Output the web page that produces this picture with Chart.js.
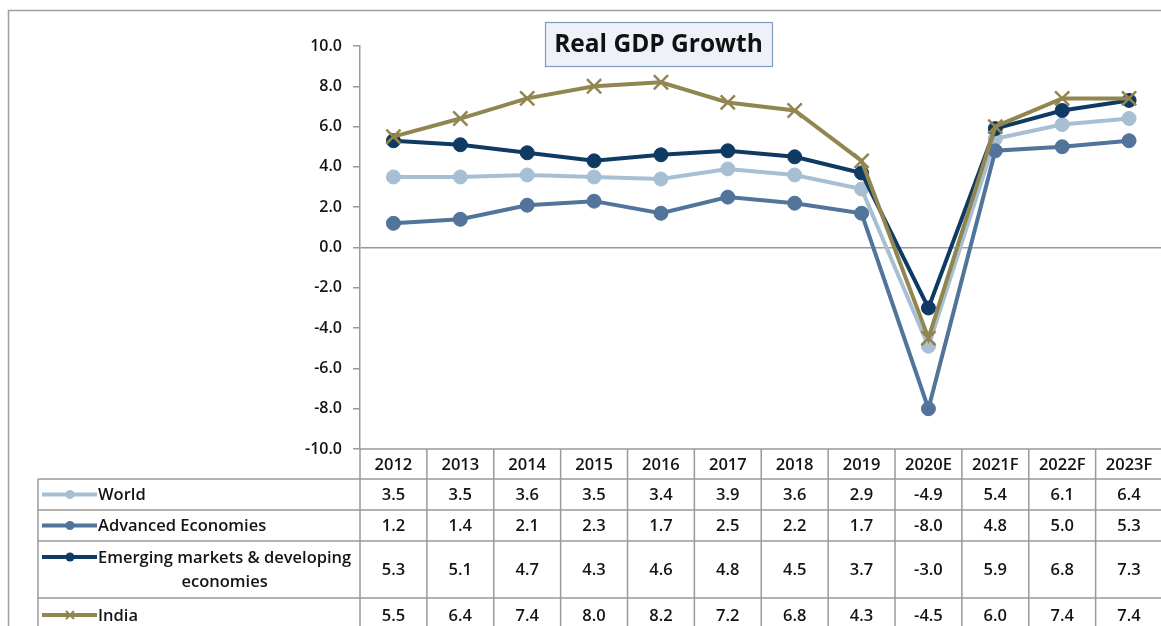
<!DOCTYPE html>
<html><head><meta charset="utf-8">
<script src="https://cdn.jsdelivr.net/npm/chart.js@4/dist/chart.umd.min.js"></script>
<style>
html,body{margin:0;padding:0;background:#fff;overflow:hidden;width:1161px;height:626px}
#wrap{position:absolute;left:0;top:0;width:1175px;height:626px}
</style></head>
<body><div id="wrap"><canvas id="c"></canvas></div>
<script>
const categories = ['2012','2013','2014','2015','2016','2017','2018','2019','2020E','2021F','2022F','2023F'];
const world    = [3.5, 3.5, 3.6, 3.5, 3.4, 3.9, 3.6, 2.9, -4.9, 5.4, 6.1, 6.4];
const advanced = [1.2, 1.4, 2.1, 2.3, 1.7, 2.5, 2.2, 1.7, -8.0, 4.8, 5.0, 5.3];
const emerging = [5.3, 5.1, 4.7, 4.3, 4.6, 4.8, 4.5, 3.7, -3.0, 5.9, 6.8, 7.3];
const india    = [5.5, 6.4, 7.4, 8.0, 8.2, 7.2, 6.8, 4.3, -4.5, 6.0, 7.4, 7.4];
const seriesLabels = [['World'], ['Advanced Economies'], ['Emerging markets & developing', 'economies'], ['India']];
const titleText = 'Real GDP Growth';

const FONT = '"Open Sans", Lato, sans-serif';
const COLORS = ['#a8bfd3', '#52739a', '#0f3a63', '#928650'];
const GRID = '#9a9a9a';
const TXT = '#141414';

const frameTitlePlugin = {
  id: 'frameTitle',
  beforeDraw(chart) {
    const ctx = chart.ctx;
    ctx.save();
    ctx.strokeStyle = '#a0a0a0'; ctx.lineWidth = 1.5;
    ctx.strokeRect(8.5, 10.5, 1300, 700);
    ctx.restore();
  },
  afterDraw(chart) {
    const ctx = chart.ctx;
    ctx.save();
    ctx.fillStyle = '#eef2f8';
    ctx.fillRect(545, 22, 227, 44);
    ctx.strokeStyle = '#7f9bbf'; ctx.lineWidth = 1.2;
    ctx.strokeRect(545.5, 22.5, 227, 44);
    ctx.fillStyle = '#111';
    ctx.font = 'bold 24.5px ' + FONT;
    ctx.textAlign = 'center'; ctx.textBaseline = 'middle';
    ctx.fillText(titleText, 658.5, 45);
    ctx.restore();
  }
};

const tablePlugin = {
  id: 'dataTable',
  afterDraw(chart) {
    const ctx = chart.ctx, xs = chart.scales.x, a = chart.chartArea;
    const data = chart.data.datasets.map(d => d.data);
    const n = categories.length;
    const colW = xs.getPixelForValue(1) - xs.getPixelForValue(0);
    const left = a.left, right = left + colW * n;
    const tableLeft = 38;
    const top = a.bottom;
    const rowH = [30, 31, 31, 57, 34];
    const ys = [top];
    rowH.forEach(h => ys.push(ys[ys.length - 1] + h));
    ctx.save();
    ctx.strokeStyle = GRID; ctx.lineWidth = 1.5;
    ctx.beginPath();
    ctx.moveTo(left, ys[0]); ctx.lineTo(right, ys[0]);
    for (let i = 1; i < ys.length; i++) { ctx.moveTo(tableLeft, ys[i]); ctx.lineTo(right, ys[i]); }
    for (let c = 0; c <= n; c++) { const x = left + c * colW; ctx.moveTo(x, ys[0]); ctx.lineTo(x, ys[ys.length - 1]); }
    ctx.moveTo(tableLeft, ys[1]); ctx.lineTo(tableLeft, ys[ys.length - 1]);
    ctx.stroke();

    ctx.fillStyle = TXT;
    ctx.font = '600 16.5px ' + FONT;
    ctx.textAlign = 'center'; ctx.textBaseline = 'middle';
    categories.forEach((c, i) => ctx.fillText(c, xs.getPixelForValue(i), (ys[0] + ys[1]) / 2 + 1));
    data.forEach((row, r) => {
      const cy = (ys[r + 1] + ys[r + 2]) / 2 + 1;
      row.forEach((v, i) => ctx.fillText(v.toFixed(1), xs.getPixelForValue(i), cy));
    });
    chart.data.datasets.forEach((ds, r) => {
      const lines = seriesLabels[r];
      const cyRow = (ys[r + 1] + ys[r + 2]) / 2;
      const keyY = lines.length > 1 ? ys[r + 1] + 16 : cyRow;
      ctx.strokeStyle = ds.borderColor; ctx.lineWidth = 4;
      ctx.beginPath(); ctx.moveTo(42, keyY); ctx.lineTo(97, keyY); ctx.stroke();
      if (ds.pointStyle === 'crossRot') {
        ctx.lineWidth = 2;
        ctx.beginPath();
        ctx.moveTo(66, keyY - 4); ctx.lineTo(74, keyY + 4);
        ctx.moveTo(66, keyY + 4); ctx.lineTo(74, keyY - 4);
        ctx.stroke();
      } else {
        ctx.fillStyle = ds.borderColor;
        ctx.beginPath(); ctx.arc(70, keyY, 4.5, 0, Math.PI * 2); ctx.fill();
      }
      ctx.fillStyle = TXT;
      if (lines.length === 1) {
        ctx.textAlign = 'left';
        ctx.fillText(lines[0], 98, cyRow + 1);
      } else {
        ctx.textAlign = 'left';
        ctx.fillText(lines[0], 98, keyY + 1);
        ctx.textAlign = 'center';
        const w = ctx.measureText(lines[0]).width;
        ctx.fillText(lines[1], 98 + w / 2, keyY + 25);
      }
      ctx.textAlign = 'center';
    });
    ctx.restore();
  }
};

function ds(label, data, color, order, cross) {
  return {
    label, data, order,
    borderColor: color, backgroundColor: color,
    borderWidth: 4, tension: 0,
    pointStyle: cross ? 'crossRot' : 'circle',
    pointRadius: cross ? 10 : 7,
    pointBorderWidth: cross ? 2.5 : 1,
    pointBorderColor: color, pointBackgroundColor: color,
    pointHoverRadius: cross ? 10 : 7
  };
}

new Chart(document.getElementById('c'), {
  type: 'line',
  data: {
    labels: categories,
    datasets: [
      ds(seriesLabels[0].join(' '), world, COLORS[0], 4, false),
      ds(seriesLabels[1].join(' '), advanced, COLORS[1], 3, false),
      ds(seriesLabels[2].join(' '), emerging, COLORS[2], 2, false),
      ds(seriesLabels[3].join(' '), india, COLORS[3], 1, true)
    ]
  },
  options: {
    responsive: true, maintainAspectRatio: false, animation: false,
    layout: { padding: { left: 280, right: 7, top: 46, bottom: 177 } },
    plugins: { legend: { display: false }, title: { display: false }, tooltip: { enabled: false } },
    scales: {
      x: {
        offset: true,
        ticks: { display: false },
        grid: { display: false, drawTicks: false },
        border: { display: false },
        afterFit: s => { s.height = 0; }
      },
      y: {
        min: -10, max: 10,
        ticks: { stepSize: 2, callback: v => Number(v).toFixed(1), color: TXT, font: { family: FONT, size: 16, weight: '600' }, padding: 11 },
        grid: { drawOnChartArea: true, color: c => (c.tick && c.tick.value === 0) ? GRID : 'rgba(0,0,0,0)', tickColor: GRID, tickLength: 7, lineWidth: 1.5 },
        border: { display: true, color: GRID, width: 1.5 },
        afterFit: s => { s.width = 80; }
      }
    }
  },
  plugins: [frameTitlePlugin, tablePlugin]
});
</script>
</body></html>
